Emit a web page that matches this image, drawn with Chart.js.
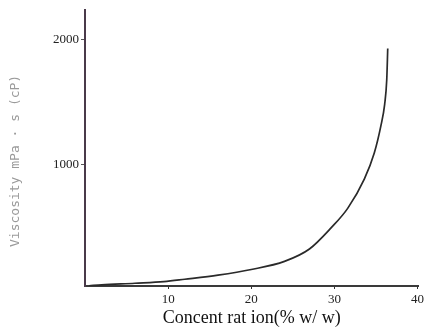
<!DOCTYPE html>
<html>
<head>
<meta charset="utf-8">
<script src="https://cdn.jsdelivr.net/npm/chart.js@4/dist/chart.umd.min.js"></script>
<style>
  html, body { margin: 0; padding: 0; background: #fff; }
  #wrap { width: 427px; height: 330px; }
</style>
</head>
<body>
<div id="wrap"><canvas id="visc-chart" width="427" height="330"></canvas></div>
<script>
// Concentration (% w/w)
const CONC = [0.5, 2, 6, 9.5, 12, 16, 20, 24, 27, 29.6, 31.6, 33.6, 34.8, 35.6, 36.05, 36.3, 36.42];
// Viscosity (mPa·s) at each concentration
const VISC = [32, 39, 52, 65, 84, 117, 162, 227, 326, 495, 651, 885, 1094, 1313, 1484, 1680, 1930];

// Tick labels shown on each axis
const X_TICKS = [10, 20, 30, 40];
const Y_TICKS = [1000, 2000];

const X_TITLE = "Concent rat ion(% w/ w)";
const Y_TITLE = "Viscosity mPa · s (cP)";

// Draws the rotated grey y-axis title, a bit below the middle like the scan
const yTitlePlugin = {
  id: "yTitle",
  afterDraw(chart) {
    let ctx = chart.ctx;
    let area = chart.chartArea;
    ctx.save();
    ctx.translate(16, (area.top + area.bottom) / 2 + 13);
    ctx.rotate(-Math.PI / 2);
    ctx.font = "13px 'DejaVu Sans Mono'";
    ctx.fillStyle = "#9a9a9a";
    ctx.textAlign = "center";
    ctx.textBaseline = "middle";
    ctx.fillText(Y_TITLE, 0, 0);
    ctx.restore();
  }
};

let points = CONC.map((c, i) => ({ x: c, y: VISC[i] }));

let ctx = document.getElementById("visc-chart").getContext("2d");
let chart = new Chart(ctx, {
  type: "line",
  data: {
    datasets: [{
      data: points,
      borderColor: "#2a2a2a",
      borderWidth: 1.7,
      pointRadius: 0,
      fill: false,
      cubicInterpolationMode: "monotone"
    }]
  },
  options: {
    responsive: false,
    animation: false,
    layout: { padding: { top: 3, right: 0, left: 0, bottom: 0 } },
    plugins: {
      legend: { display: false },
      tooltip: { enabled: false }
    },
    scales: {
      x: {
        type: "linear",
        min: 0,
        max: 40.1,
        afterBuildTicks: (s) => { s.ticks = X_TICKS.map(v => ({ value: v })); },
        afterFit: (s) => { s.height = 44; },
        grid: { drawOnChartArea: false, drawTicks: true, tickLength: 3, color: "#333" },
        border: { color: "#3a3a3a", width: 2 },
        ticks: {
          color: "#222",
          padding: 3,
          maxRotation: 0,
          callback: (v) => String(v),
          font: { family: "'Liberation Serif'", size: 13 }
        },
        title: {
          display: true,
          text: X_TITLE,
          color: "#111",
          padding: { top: 0, bottom: 1 },
          font: { family: "'Liberation Serif'", size: 18 }
        }
      },
      y: {
        type: "linear",
        min: 30,
        max: 2240,
        afterBuildTicks: (s) => { s.ticks = Y_TICKS.map(v => ({ value: v })); },
        afterFit: (s) => { s.width = 85; },
        grid: { drawOnChartArea: false, drawTicks: true, tickLength: 4, color: "#555" },
        border: { color: "#4a3a4a", width: 2 },
        ticks: {
          color: "#222",
          padding: 2,
          callback: (v) => String(v),
          font: { family: "'Liberation Serif'", size: 13 }
        }
      }
    }
  },
  plugins: [yTitlePlugin]
});
</script>
</body>
</html>
